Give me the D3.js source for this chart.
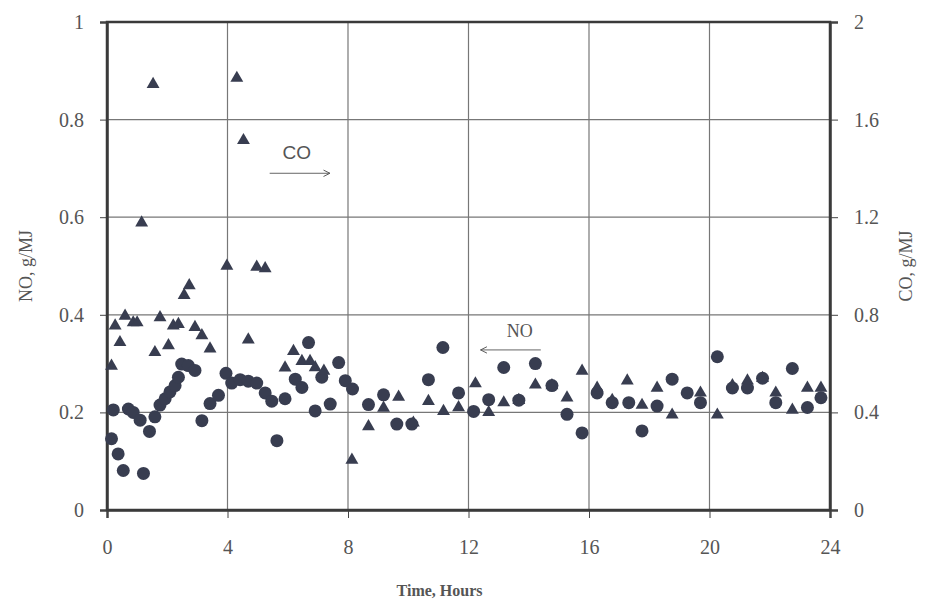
<!DOCTYPE html>
<html lang="en">
	<head>
		<meta charset="utf-8">
		<title>NO and CO emissions over time</title>
		<script type="text/javascript" src="https://cdn.jsdelivr.net/npm/d3@7"></script>
		<style>
			body { margin: 0; background: #fff; }
			text { font-family: "Liberation Serif", "DejaVu Serif", serif; fill: #555; }
			.grid line { stroke: #777; stroke-width: 1.2; }
			.axis path, .axis line { stroke: #444; }
		</style>
	</head>
	<body>
		<div id="vis"></div>

		<script type="text/javascript">
			// NO points (left axis, g/MJ)
			var noHours = [0.15, 0.21, 0.37, 0.54, 0.71, 0.87, 1.10, 1.21, 1.41, 1.59, 1.76, 1.93, 2.09, 2.26, 2.37, 2.48, 2.70, 2.92, 3.15, 3.42,
				3.70, 3.95, 4.14, 4.42, 4.69, 4.97, 5.25, 5.47, 5.64, 5.91, 6.25, 6.47, 6.69, 6.91, 7.13, 7.41, 7.69, 7.91, 8.15, 8.68,
				9.18, 9.62, 10.12, 10.67, 11.15, 11.67, 12.17, 12.67, 13.17, 13.67, 14.22, 14.77, 15.27, 15.77, 16.27, 16.77, 17.32, 17.76, 18.26, 18.76,
				19.26, 19.70, 20.26, 20.76, 21.26, 21.76, 22.20, 22.75, 23.25, 23.70];
			var noValues = [0.146, 0.205, 0.115, 0.081, 0.207, 0.200, 0.184, 0.075, 0.161, 0.191, 0.215, 0.228, 0.242, 0.255, 0.272, 0.299, 0.296, 0.286, 0.183, 0.218,
				0.235, 0.280, 0.260, 0.267, 0.264, 0.260, 0.240, 0.223, 0.142, 0.228, 0.268, 0.251, 0.343, 0.203, 0.272, 0.217, 0.302, 0.265, 0.248, 0.216,
				0.236, 0.176, 0.176, 0.267, 0.333, 0.240, 0.202, 0.226, 0.292, 0.225, 0.300, 0.255, 0.196, 0.158, 0.240, 0.220, 0.220, 0.162, 0.213, 0.268,
				0.240, 0.220, 0.314, 0.250, 0.250, 0.270, 0.220, 0.290, 0.210, 0.230];

			// CO points (right axis, g/MJ)
			var coHours = [0.15, 0.27, 0.43, 0.60, 0.87, 1.00, 1.15, 1.53, 1.59, 1.76, 2.04, 2.20, 2.37, 2.56, 2.73, 2.92, 3.15, 3.42, 3.98, 4.31,
				4.53, 4.69, 4.97, 5.25, 5.91, 6.19, 6.47, 6.74, 6.91, 7.20, 8.13, 8.68, 9.18, 9.68, 10.17, 10.67, 11.17, 11.67, 12.23, 12.67,
				13.17, 13.67, 14.22, 14.77, 15.27, 15.77, 16.27, 16.77, 17.27, 17.76, 18.26, 18.76, 19.70, 20.26, 20.76, 21.26, 21.76, 22.20, 22.75, 23.25,
				23.70];
			var coValues = [0.59, 0.755, 0.687, 0.795, 0.768, 0.768, 1.177, 1.745, 0.646, 0.789, 0.674, 0.755, 0.761, 0.88, 0.92, 0.749, 0.715, 0.661, 1.00, 1.77,
				1.515, 0.698, 0.996, 0.99, 0.583, 0.651, 0.61, 0.61, 0.584, 0.57, 0.205, 0.342, 0.418, 0.463, 0.357, 0.446, 0.405, 0.42, 0.518, 0.40,
				0.44, 0.45, 0.513, 0.51, 0.46, 0.57, 0.50, 0.45, 0.53, 0.43, 0.50, 0.39, 0.48, 0.39, 0.51, 0.53, 0.54, 0.48, 0.41, 0.50,
				0.50];

			var xTicks = [0, 4, 8, 12, 16, 20, 24];
			var noTicks = [0, 0.2, 0.4, 0.6, 0.8, 1];
			var coTicks = [0, 0.4, 0.8, 1.2, 1.6, 2];

			var W = 925, H = 608;
			var margin = {top: 22, right: 95, bottom: 98, left: 107};
			var w = W - margin.left - margin.right,
				h = H - margin.top - margin.bottom;
			var markColor = "#383d50";

			var svg = d3.select("#vis").append("svg").attr("width", W).attr("height", H);
			var g = svg.append("g").attr("transform", "translate(" + margin.left + "," + margin.top + ")");

			var x = d3.scaleLinear().domain([0, 24]).range([0, w]);
			var yNO = d3.scaleLinear().domain([0, 1]).range([h, 0]);
			var yCO = d3.scaleLinear().domain([0, 2]).range([h, 0]);

			// grid
			g.append("g").attr("class", "grid")
				.selectAll("line.h").data(noTicks.slice(1, -1)).enter().append("line")
				.attr("x1", 0).attr("x2", w)
				.attr("y1", function(d) { return yNO(d); })
				.attr("y2", function(d) { return yNO(d); });
			g.select(".grid")
				.selectAll("line.v").data(xTicks.slice(1, -1)).enter().append("line")
				.attr("y1", 0).attr("y2", h)
				.attr("x1", function(d) { return x(d); })
				.attr("x2", function(d) { return x(d); });

			// axes
			var fmt = function(d) { return d3.format("")(d); };
			var ax = g.append("g").attr("class", "axis").attr("transform", "translate(0," + h + ")")
				.call(d3.axisBottom(x).tickValues(xTicks).tickSize(8).tickPadding(22).tickFormat(fmt));
			var ayl = g.append("g").attr("class", "axis")
				.call(d3.axisLeft(yNO).tickValues(noTicks).tickSize(7).tickPadding(16).tickFormat(fmt));
			var ayr = g.append("g").attr("class", "axis").attr("transform", "translate(" + w + ",0)")
				.call(d3.axisRight(yCO).tickValues(coTicks).tickSize(8).tickPadding(16).tickFormat(fmt));
			[ax, ayl, ayr].forEach(function(a) {
				a.selectAll("text").style("font-size", "20px").attr("fill", "#555");
				a.select(".domain").attr("stroke-width", 2.5);
			});

			// frame
			g.append("rect").attr("width", w).attr("height", h)
				.attr("fill", "none").attr("stroke", "#3a3a3a").attr("stroke-width", 2.5);

			// NO circles
			g.append("g").selectAll("circle").data(noHours).enter().append("circle")
				.attr("cx", function(d) { return x(d); })
				.attr("cy", function(d, i) { return yNO(noValues[i]); })
				.attr("r", 6.5)
				.attr("fill", markColor);

			// CO triangles
			var tri = d3.symbol().type(d3.symbolTriangle).size(72);
			g.append("g").selectAll("path").data(coHours).enter().append("path")
				.attr("d", tri)
				.attr("transform", function(d, i) { return "translate(" + x(d) + "," + yCO(coValues[i]) + ")"; })
				.attr("fill", markColor);

			// annotations
			var defs = svg.append("defs");
			defs.append("marker").attr("id", "arr").attr("viewBox", "0 0 10 10")
				.attr("refX", 9).attr("refY", 5).attr("markerWidth", 8).attr("markerHeight", 8)
				.attr("orient", "auto-start-reverse")
				.append("path").attr("d", "M1,1 L9,5 L1,9").attr("fill", "none").attr("stroke", "#555").attr("stroke-width", 1.2);

			g.append("text").attr("x", x(6.3)).attr("y", yCO(1.44)).attr("text-anchor", "middle")
				.style("font-size", "19px").style("font-family", "Liberation Sans, Arial, sans-serif").text("CO");
			g.append("line").attr("x1", x(5.4)).attr("x2", x(7.4))
				.attr("y1", yCO(1.38)).attr("y2", yCO(1.38))
				.attr("stroke", "#666").attr("stroke-width", 1).attr("marker-end", "url(#arr)");

			g.append("text").attr("x", x(13.7)).attr("y", yNO(0.355)).attr("text-anchor", "middle")
				.style("font-size", "18px").text("NO");
			g.append("line").attr("x1", x(14.4)).attr("x2", x(12.4))
				.attr("y1", yNO(0.328)).attr("y2", yNO(0.328))
				.attr("stroke", "#666").attr("stroke-width", 1).attr("marker-end", "url(#arr)");

			// axis titles
			svg.append("text").attr("transform", "translate(32," + (margin.top + h * 0.5) + ") rotate(-90)")
				.attr("text-anchor", "middle").style("font-size", "18px").text("NO, g/MJ");
			svg.append("text").attr("transform", "translate(912," + (margin.top + h * 0.5) + ") rotate(-90)")
				.attr("text-anchor", "middle").style("font-size", "18px").text("CO, g/MJ");
			svg.append("text").attr("x", margin.left + w * 0.46).attr("y", 596)
				.attr("text-anchor", "middle").style("font-size", "16px").style("font-weight", "bold").text("Time, Hours");
		</script>
	</body>
</html>
